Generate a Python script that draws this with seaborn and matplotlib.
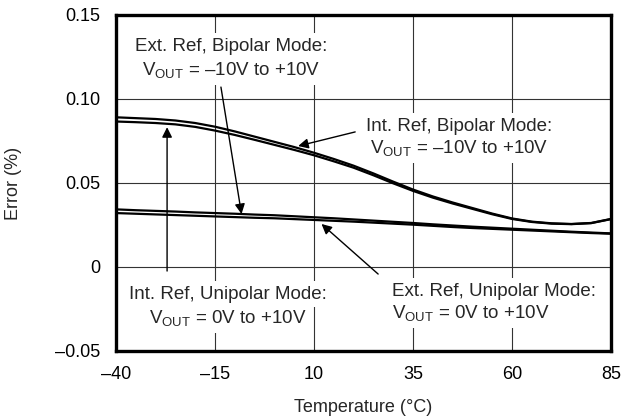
import pandas as pd
import seaborn as sns
import matplotlib.pyplot as plt

# temperature points (degC)
temp = [-40, -35, -30, -25, -20, -15, -10, -5, 0, 5, 10, 15, 20, 25, 30, 35, 40, 45, 50, 55, 60, 65, 70, 75, 80, 85]

# error (%)
int_bipolar = [0.0866, 0.0862, 0.0857, 0.0849, 0.0834, 0.0812, 0.0786, 0.0757, 0.0727, 0.0697, 0.0665, 0.0629, 0.0591,
               0.0546, 0.0498, 0.0453, 0.0413, 0.0378, 0.0346, 0.0314, 0.0286, 0.0268, 0.0258, 0.0255, 0.0261, 0.0285]
ext_bipolar = [0.0891, 0.0886, 0.0881, 0.0872, 0.0857, 0.0835, 0.0807, 0.0776, 0.0745, 0.0714, 0.0680, 0.0643, 0.0603,
               0.0557, 0.0508, 0.0461, 0.0420, 0.0384, 0.0351, 0.0318, 0.0289, 0.0270, 0.0260, 0.0256, 0.0262, 0.0286]
int_unipolar = [0.0321, 0.0317, 0.0313, 0.0309, 0.0305, 0.0301, 0.0297, 0.0293, 0.0290, 0.0285, 0.0280, 0.0275, 0.0270,
                0.0264, 0.0258, 0.0252, 0.0245, 0.0238, 0.0232, 0.0227, 0.0222, 0.0217, 0.0212, 0.0207, 0.0202, 0.0198]
ext_unipolar = [0.0343, 0.0338, 0.0334, 0.0330, 0.0325, 0.0321, 0.0317, 0.0312, 0.0308, 0.0302, 0.0296, 0.0290, 0.0283,
                0.0276, 0.0269, 0.0262, 0.0254, 0.0247, 0.0240, 0.0234, 0.0228, 0.0222, 0.0216, 0.0210, 0.0205, 0.0200]

xticks = [-40, -15, 10, 35, 60, 85]
xtick_labels = ["\u201340", "\u201315", "10", "35", "60", "85"]
yticks = [-0.05, 0, 0.05, 0.10, 0.15]
ytick_labels = ["\u20130.05", "0", "0.05", "0.10", "0.15"]

sns.set_theme(style="white")
plt.rcParams['font.family'] = ['Liberation Sans', 'DejaVu Sans']
plt.rcParams['mathtext.fontset'] = 'custom'
plt.rcParams['mathtext.rm'] = 'Liberation Sans'

n = len(temp)
df = pd.DataFrame({"Temperature": temp * 4,
                   "Error": int_bipolar + ext_bipolar + int_unipolar + ext_unipolar,
                   "Series": ["int_bip"] * n + ["ext_bip"] * n + ["int_uni"] * n + ["ext_uni"] * n})

fig = plt.figure(figsize=(6.22, 4.2), dpi=100)
ax = fig.add_axes([0.1865, 0.1643, 0.7958, 0.80])

sns.lineplot(data=df, x="Temperature", y="Error", units="Series", estimator=None,
             color="black", linewidth=1.6, ax=ax, zorder=3)

ax.set_xlim(-40, 85)
ax.set_ylim(-0.05, 0.15)
ax.set_xticks(xticks)
ax.set_xticklabels(xtick_labels)
ax.set_yticks(yticks)
ax.set_yticklabels(ytick_labels)
ax.tick_params(length=0, labelsize=13, colors="black", pad=11)
ax.grid(True, color="#333333", linewidth=0.8)
for s in ax.spines.values():
    s.set_linewidth(2.4)
    s.set_color("black")
    s.set_zorder(6)

ax.set_xlabel("Temperature (\u00b0C)", fontsize=13, labelpad=11)
ax.set_ylabel("Error (%)", fontsize=13, labelpad=24)

fs = 13.5
box = dict(facecolor="white", edgecolor="none", pad=3)
vout_bip = "V$_{\\mathregular{OUT}}$ = \u201310V to +10V"
vout_uni = "V$_{\\mathregular{OUT}}$ = 0V to +10V"
arrow = dict(arrowstyle="-|>", color="black", lw=1.0, mutation_scale=15, shrinkA=0, shrinkB=0)

# Ext. Ref, Bipolar
ax.annotate("", xy=(-8.3, 0.0315), xytext=(-13.5, 0.1071), arrowprops=arrow, zorder=4)
ax.text(-11, 0.1315, "Ext. Ref, Bipolar Mode:", ha="center", va="center", fontsize=fs, bbox=box, zorder=5)
ax.text(-11, 0.1167, vout_bip, ha="center", va="center", fontsize=fs, bbox=box, zorder=5)

# Int. Ref, Bipolar
ax.annotate("", xy=(6.0, 0.0720), xytext=(20.4, 0.0804), arrowprops=arrow, zorder=4)
ax.text(46.7, 0.0839, "Int. Ref, Bipolar Mode:", ha="center", va="center", fontsize=fs, bbox=box, zorder=5)
ax.text(46.7, 0.0702, vout_bip, ha="center", va="center", fontsize=fs, bbox=box, zorder=5)

# Int. Ref, Unipolar
ax.annotate("", xy=(-27.1, 0.0832), xytext=(-27.1, -0.0024), arrowprops=arrow, zorder=4)
ax.text(-11.8, -0.0161, "Int. Ref, Unipolar Mode:", ha="center", va="center", fontsize=fs, bbox=box, zorder=5)
ax.text(-11.8, -0.0310, vout_uni, ha="center", va="center", fontsize=fs, bbox=box, zorder=5)

# Ext. Ref, Unipolar
ax.annotate("", xy=(11.9, 0.0256), xytext=(26.2, -0.0042), arrowprops=arrow, zorder=4)
ax.text(29.7, -0.0143, "Ext. Ref, Unipolar Mode:", ha="left", va="center", fontsize=fs, bbox=box, zorder=5)
ax.text(29.7, -0.0280, vout_uni, ha="left", va="center", fontsize=fs, bbox=box, zorder=5)

fig.savefig("out.png", dpi=100)
plt.close(fig)
